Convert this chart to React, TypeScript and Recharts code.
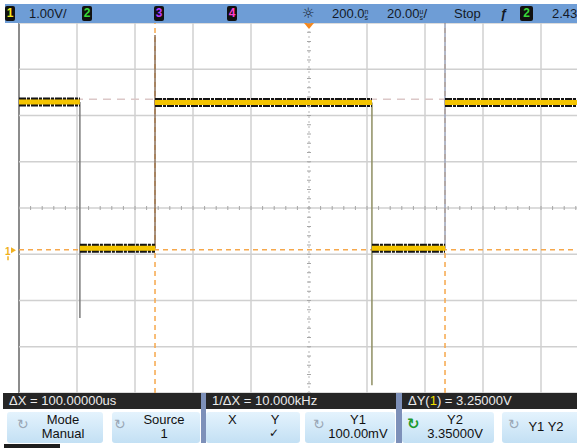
import React from 'react';
import { ComposedChart, Line, XAxis, YAxis, ReferenceLine } from 'recharts';

// time base: 20 us/div, 10 divisions, trigger point in the middle
const timeTicks = [-100, -80, -60, -40, -20, 0, 20, 40, 60, 80, 100];
// channel 1: 1.00 V/div, 8 divisions
const voltTicks = [-3, -2, -1, 0, 1, 2, 3, 4, 5];

// channel 1 square wave, flat parts (us, V)
const segStart = [-100, -79.0, -53.1, 21.7, 46.9];
const segEnd = [-79.0, -53.1, 21.7, 46.9, 100];
const segLevel = [3.29, 0.13, 3.28, 0.13, 3.28];

// edges: time, level the edge leaves, furthest point of the edge streak
const edgeTime = [-79.0, -53.1, 21.7, 46.9];
const edgeFrom = [3.29, 0.13, 3.28, 0.13];
const edgeTo = [-1.38, 4.74, -2.83, 5.0];
const EDGE_COLORS = ['#7c7c7c', '#8b6f58', '#8e8e62', '#9aa2b8'];

// cursors
const cursorX = [-53.1, 46.9];
const cursorY1 = 0.1;
const cursorY2 = 3.35;
const centerT = 0;
const centerV = 1;
const groundV = 0;

// graticule minor ticks on the centre lines
const minorT = Array.from({ length: 51 }, (_, i) => -100 + i * 4);
const minorV = Array.from({ length: 41 }, (_, i) => Math.round((-3 + i * 0.2) * 10) / 10);

const traceData = segStart.flatMap((s, i) => [
  { t: s, v: segLevel[i] },
  { t: segEnd[i], v: segLevel[i] },
  { t: segEnd[i], v: null },
]);

const FONT = '"Liberation Sans", Arial, sans-serif';

function HTick(props: any) {
  const { cx, cy, index } = props;
  if (cx == null || cy == null) return <g key={index} />;
  return <line key={index} x1={cx} x2={cx} y1={cy - 2} y2={cy + 2} stroke="#a6a6a6" strokeWidth={1} />;
}

function VTick(props: any) {
  const { cx, cy, index } = props;
  if (cx == null || cy == null) return <g key={index} />;
  return <line key={index} x1={cx - 2} x2={cx + 2} y1={cy} y2={cy} stroke="#a6a6a6" strokeWidth={1} />;
}

function TrigMark(props: any) {
  const { x, y } = props.viewBox || {};
  if (x == null) return null;
  return <polygon points={`${x - 5},${y} ${x + 5},${y} ${x},${y + 6}`} fill="#f5891f" />;
}

function GroundMark(props: any) {
  const { x, y } = props.viewBox || {};
  if (x == null) return null;
  return (
    <g>
      <text x={x - 14} y={y + 1} fill="#f0b020" fontSize={10} fontFamily={FONT} fontWeight="bold">
        1
      </text>
      <polygon points={`${x - 8},${y - 7} ${x - 3},${y - 4} ${x - 8},${y - 1}`} fill="#f0b020" />
      <line x1={x - 11} x2={x - 11} y1={y + 2} y2={y + 6} stroke="#f0b020" strokeWidth={1.5} />
    </g>
  );
}

function ChBox({ left, color, label, width = 10 }: { left: number; color: string; label: string; width?: number }) {
  return (
    <div
      style={{
        position: 'absolute',
        left,
        top: 2,
        width,
        height: 15,
        background: '#111',
        borderRadius: 2,
        color,
        fontSize: 12,
        fontWeight: 'bold',
        lineHeight: '15px',
        textAlign: 'center',
      }}
    >
      {label}
    </div>
  );
}

function Units({ a, b }: { a: string; b: string }) {
  return (
    <span style={{ display: 'inline-flex', flexDirection: 'column', fontSize: 7, lineHeight: '6px', verticalAlign: 'middle' }}>
      <span>{a}</span>
      <span>{b}</span>
    </span>
  );
}

function Knob({ left, green }: { left: number; green?: boolean }) {
  return (
    <div
      style={{
        position: 'absolute',
        left,
        top: 5,
        fontFamily: '"DejaVu Sans", sans-serif',
        fontSize: green ? 15 : 14,
        fontWeight: green ? 'bold' : 'normal',
        color: green ? '#1d9a2e' : '#9aa7b6',
      }}
    >
      ↻
    </div>
  );
}

function SoftKey({ left, width, children }: { left: number; width: number; children: React.ReactNode }) {
  return (
    <div
      style={{
        position: 'absolute',
        left,
        top: 412,
        width,
        height: 31,
        borderRadius: 3,
        background: 'linear-gradient(#e4f3fd, #c3e0f4)',
        color: '#111',
        fontSize: 13,
        lineHeight: '14px',
      }}
    >
      {children}
    </div>
  );
}

function KeyText({ left, width, top = 1, lines }: { left: number; width: number; top?: number; lines: string[] }) {
  return (
    <div style={{ position: 'absolute', left, width, top, textAlign: 'center' }}>
      {lines.map((l) => (
        <div key={l}>{l}</div>
      ))}
    </div>
  );
}

export default function App() {
  return (
    <div
      style={{
        position: 'absolute',
        left: 0,
        top: 0,
        width: 577,
        height: 448,
        overflow: 'hidden',
        background: '#fff',
        fontFamily: FONT,
      }}
    >
      <div style={{ position: 'absolute', left: 0, top: 0 }}>
        <ComposedChart width={600} height={400} margin={{ top: 23, right: 1, bottom: 7, left: 19 }}>
          <XAxis
            type="number"
            dataKey="t"
            domain={[-100, 100]}
            ticks={timeTicks}
            allowDataOverflow
            tick={false}
            tickLine={false}
            axisLine={false}
            height={0}
          />
          <YAxis
            type="number"
            dataKey="v"
            domain={[-3, 5]}
            ticks={voltTicks}
            allowDataOverflow
            tick={false}
            tickLine={false}
            axisLine={false}
            width={0}
          />
          {/* graticule */}
          {timeTicks.map((t) => (
            <ReferenceLine
              key={`gx${t}`}
              x={t}
              stroke={t === -100 ? '#8c8c8c' : '#d0d0d0'}
              strokeWidth={t === -100 ? 2 : 1.5}
              strokeDasharray={t === centerT ? '2 3' : undefined}
            />
          ))}
          {voltTicks.map((v) => (
            <ReferenceLine key={`gy${v}`} y={v} stroke="#d0d0d0" strokeWidth={1.5} />
          ))}
          <ReferenceLine x={centerT} stroke="none" label={<TrigMark />} />
          <ReferenceLine y={groundV} stroke="none" label={<GroundMark />} />
          <Line
            data={minorT.map((t) => ({ t, v: centerV }))}
            dataKey="v"
            stroke="none"
            dot={<HTick />}
            isAnimationActive={false}
          />
          <Line
            data={minorV.map((v) => ({ t: centerT, v }))}
            dataKey="v"
            stroke="none"
            dot={<VTick />}
            isAnimationActive={false}
          />
          <ReferenceLine y={cursorY2} stroke="#dcc8c8" strokeWidth={1.5} strokeDasharray="8 6" />
          <ReferenceLine y={cursorY1} stroke="#f6a84c" strokeWidth={1.5} strokeDasharray="5 4" />
          {cursorX.map((x) => (
            <ReferenceLine key={x} x={x} stroke="#f6a84c" strokeWidth={1.5} strokeDasharray="5 4" />
          ))}
          {edgeTime.map((t, i) => (
            <Line
              key={t}
              data={[
                { t, v: edgeFrom[i] },
                { t, v: edgeTo[i] },
              ]}
              dataKey="v"
              type="linear"
              stroke={EDGE_COLORS[i]}
              strokeWidth={1.5}
              dot={false}
              isAnimationActive={false}
            />
          ))}
          <Line
            data={traceData}
            dataKey="v"
            type="linear"
            stroke="#141414"
            strokeWidth={9}
            strokeDasharray="7 1 3 1"
            strokeLinecap="butt"
            connectNulls={false}
            dot={false}
            isAnimationActive={false}
          />
          <Line
            data={traceData}
            dataKey="v"
            type="linear"
            stroke="#f4c400"
            strokeWidth={5}
            strokeLinecap="butt"
            connectNulls={false}
            dot={false}
            isAnimationActive={false}
          />
        </ComposedChart>
      </div>

      {/* top status bar */}
      <div
        style={{
          position: 'absolute',
          left: 5,
          top: 4,
          width: 572,
          height: 19,
          background: '#6e9dd6',
          color: '#141a26',
          fontSize: 13,
          lineHeight: '19px',
        }}
      >
        <ChBox left={0} color="#f4e81a" label="1" />
        <div style={{ position: 'absolute', left: 24 }}>1.00V/</div>
        <ChBox left={77} color="#38d838" label="2" />
        <ChBox left={149} color="#b83cff" label="3" />
        <ChBox left={222} color="#ff3ccc" label="4" />
        <div style={{ position: 'absolute', left: 297, fontFamily: '"DejaVu Sans", sans-serif', fontSize: 14 }}>☼</div>
        <div style={{ position: 'absolute', left: 327 }}>
          200.0<Units a="n" b="s" />
        </div>
        <div style={{ position: 'absolute', left: 382 }}>
          20.00<Units a="u" b="s" />/
        </div>
        <div style={{ position: 'absolute', left: 449 }}>Stop</div>
        <div style={{ position: 'absolute', left: 495, fontStyle: 'italic', fontWeight: 'bold' }}>ƒ</div>
        <ChBox left={515} color="#38d838" label="2" width={13} />
        <div style={{ position: 'absolute', left: 547 }}>2.43</div>
      </div>

      {/* measurement bar */}
      <div style={{ position: 'absolute', left: 201, top: 393, width: 5, height: 50, background: '#7d90b9' }} />
      <div style={{ position: 'absolute', left: 396, top: 393, width: 6, height: 50, background: '#7d90b9' }} />
      {[
        { left: 3, width: 198, text: <>ΔX = 100.00000us</> },
        { left: 206, width: 190, text: <>1/ΔX = 10.000kHz</> },
        {
          left: 402,
          width: 175,
          text: (
            <>
              ΔY(<span style={{ color: '#f0e000' }}>1</span>) = 3.25000V
            </>
          ),
        },
      ].map((s) => (
        <div
          key={s.left}
          style={{
            position: 'absolute',
            left: s.left,
            top: 393,
            width: s.width,
            height: 16,
            background: '#262626',
            color: '#ececec',
            fontSize: 13,
            lineHeight: '16px',
            paddingLeft: 6,
            boxSizing: 'border-box',
          }}
        >
          {s.text}
        </div>
      ))}

      {/* softkeys */}
      <SoftKey left={7} width={96}>
        <Knob left={10} />
        <KeyText left={28} width={56} lines={['Mode', 'Manual']} />
      </SoftKey>
      <SoftKey left={112} width={88}>
        <Knob left={2} />
        <KeyText left={18} width={68} lines={['Source', '1']} />
      </SoftKey>
      <SoftKey left={206} width={94}>
        <div style={{ position: 'absolute', left: 22, top: 1 }}>X</div>
        <KeyText left={60} width={18} lines={['Y']} />
        <div style={{ position: 'absolute', left: 63, top: 14, fontFamily: '"DejaVu Sans", sans-serif', fontSize: 12 }}>✓</div>
      </SoftKey>
      <SoftKey left={305} width={90}>
        <Knob left={8} />
        <KeyText left={20} width={66} lines={['Y1', '100.00mV']} />
      </SoftKey>
      <SoftKey left={402} width={92}>
        <Knob left={5} green />
        <KeyText left={20} width={66} lines={['Y2', '3.35000V']} />
      </SoftKey>
      <SoftKey left={502} width={80}>
        <Knob left={6} />
        <KeyText left={26} width={36} top={8} lines={['Y1 Y2']} />
      </SoftKey>
      <div style={{ position: 'absolute', left: 4, top: 444, width: 56, height: 4, background: '#1e1e1e' }} />
    </div>
  );
}
